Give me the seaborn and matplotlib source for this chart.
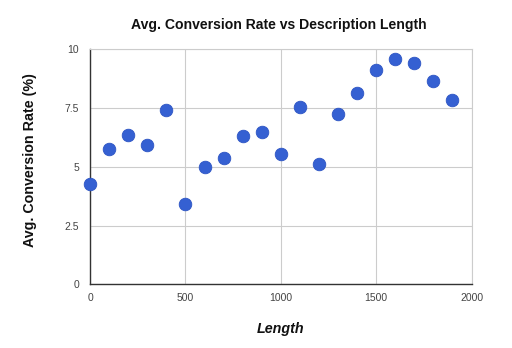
import matplotlib
matplotlib.use("Agg")
import matplotlib.pyplot as plt
import seaborn as sns
import pandas as pd

lengths = [0, 100, 200, 300, 400, 500, 600, 700, 800, 900, 1000,
           1100, 1200, 1300, 1400, 1500, 1600, 1700, 1800, 1900]
rates = [4.27, 5.74, 6.35, 5.94, 7.40, 3.42, 4.99, 5.39, 6.30, 6.48, 5.55,
         7.55, 5.12, 7.26, 8.13, 9.12, 9.60, 9.42, 8.67, 7.86]
x_ticks = [0, 500, 1000, 1500, 2000]
y_ticks = [0, 2.5, 5, 7.5, 10]
y_tick_labels = ["0", "2.5", "5", "7.5", "10"]

sns.set_style("white")
plt.rcParams['font.family'] = ['Liberation Sans', 'DejaVu Sans']

df = pd.DataFrame({"Length": lengths, "Rate": rates})

fig = plt.figure(figsize=(5.12, 3.48), dpi=100)
ax = fig.add_axes([0.176, 0.183, 0.745, 0.675])

sns.scatterplot(data=df, x="Length", y="Rate", ax=ax, s=82,
                color="#3560d2", edgecolor="#2d55c4", linewidth=0.6,
                zorder=3, clip_on=False)

ax.set_xlim(0, 2000)
ax.set_ylim(0, 10)
ax.set_xticks(x_ticks)
ax.set_yticks(y_ticks)
ax.set_yticklabels(y_tick_labels)
ax.grid(True, color="#cccccc", linewidth=0.8)
ax.set_axisbelow(True)
for side in ["top", "right"]:
    ax.spines[side].set_color("#cccccc")
    ax.spines[side].set_linewidth(0.8)
for side in ["left", "bottom"]:
    ax.spines[side].set_color("#333333")
    ax.spines[side].set_linewidth(1.0)
ax.tick_params(axis="x", length=0, labelsize=7.5, labelcolor="#444444", pad=6)
ax.tick_params(axis="y", length=0, labelsize=7.5, labelcolor="#444444", pad=8)

ax.set_xlabel("Length", fontsize=10.3, fontweight="bold", fontstyle="italic",
              labelpad=14, color="#111111")
ax.set_ylabel("Avg. Conversion Rate (%)", fontsize=10.3, fontweight="bold",
              color="#111111")
ax.yaxis.set_label_coords(-0.138, 0.53)
fig.suptitle("Avg. Conversion Rate vs Description Length", x=0.545, y=0.948,
             fontsize=10.1, fontweight="bold", color="#111111")

fig.savefig("out.png", dpi=100)
